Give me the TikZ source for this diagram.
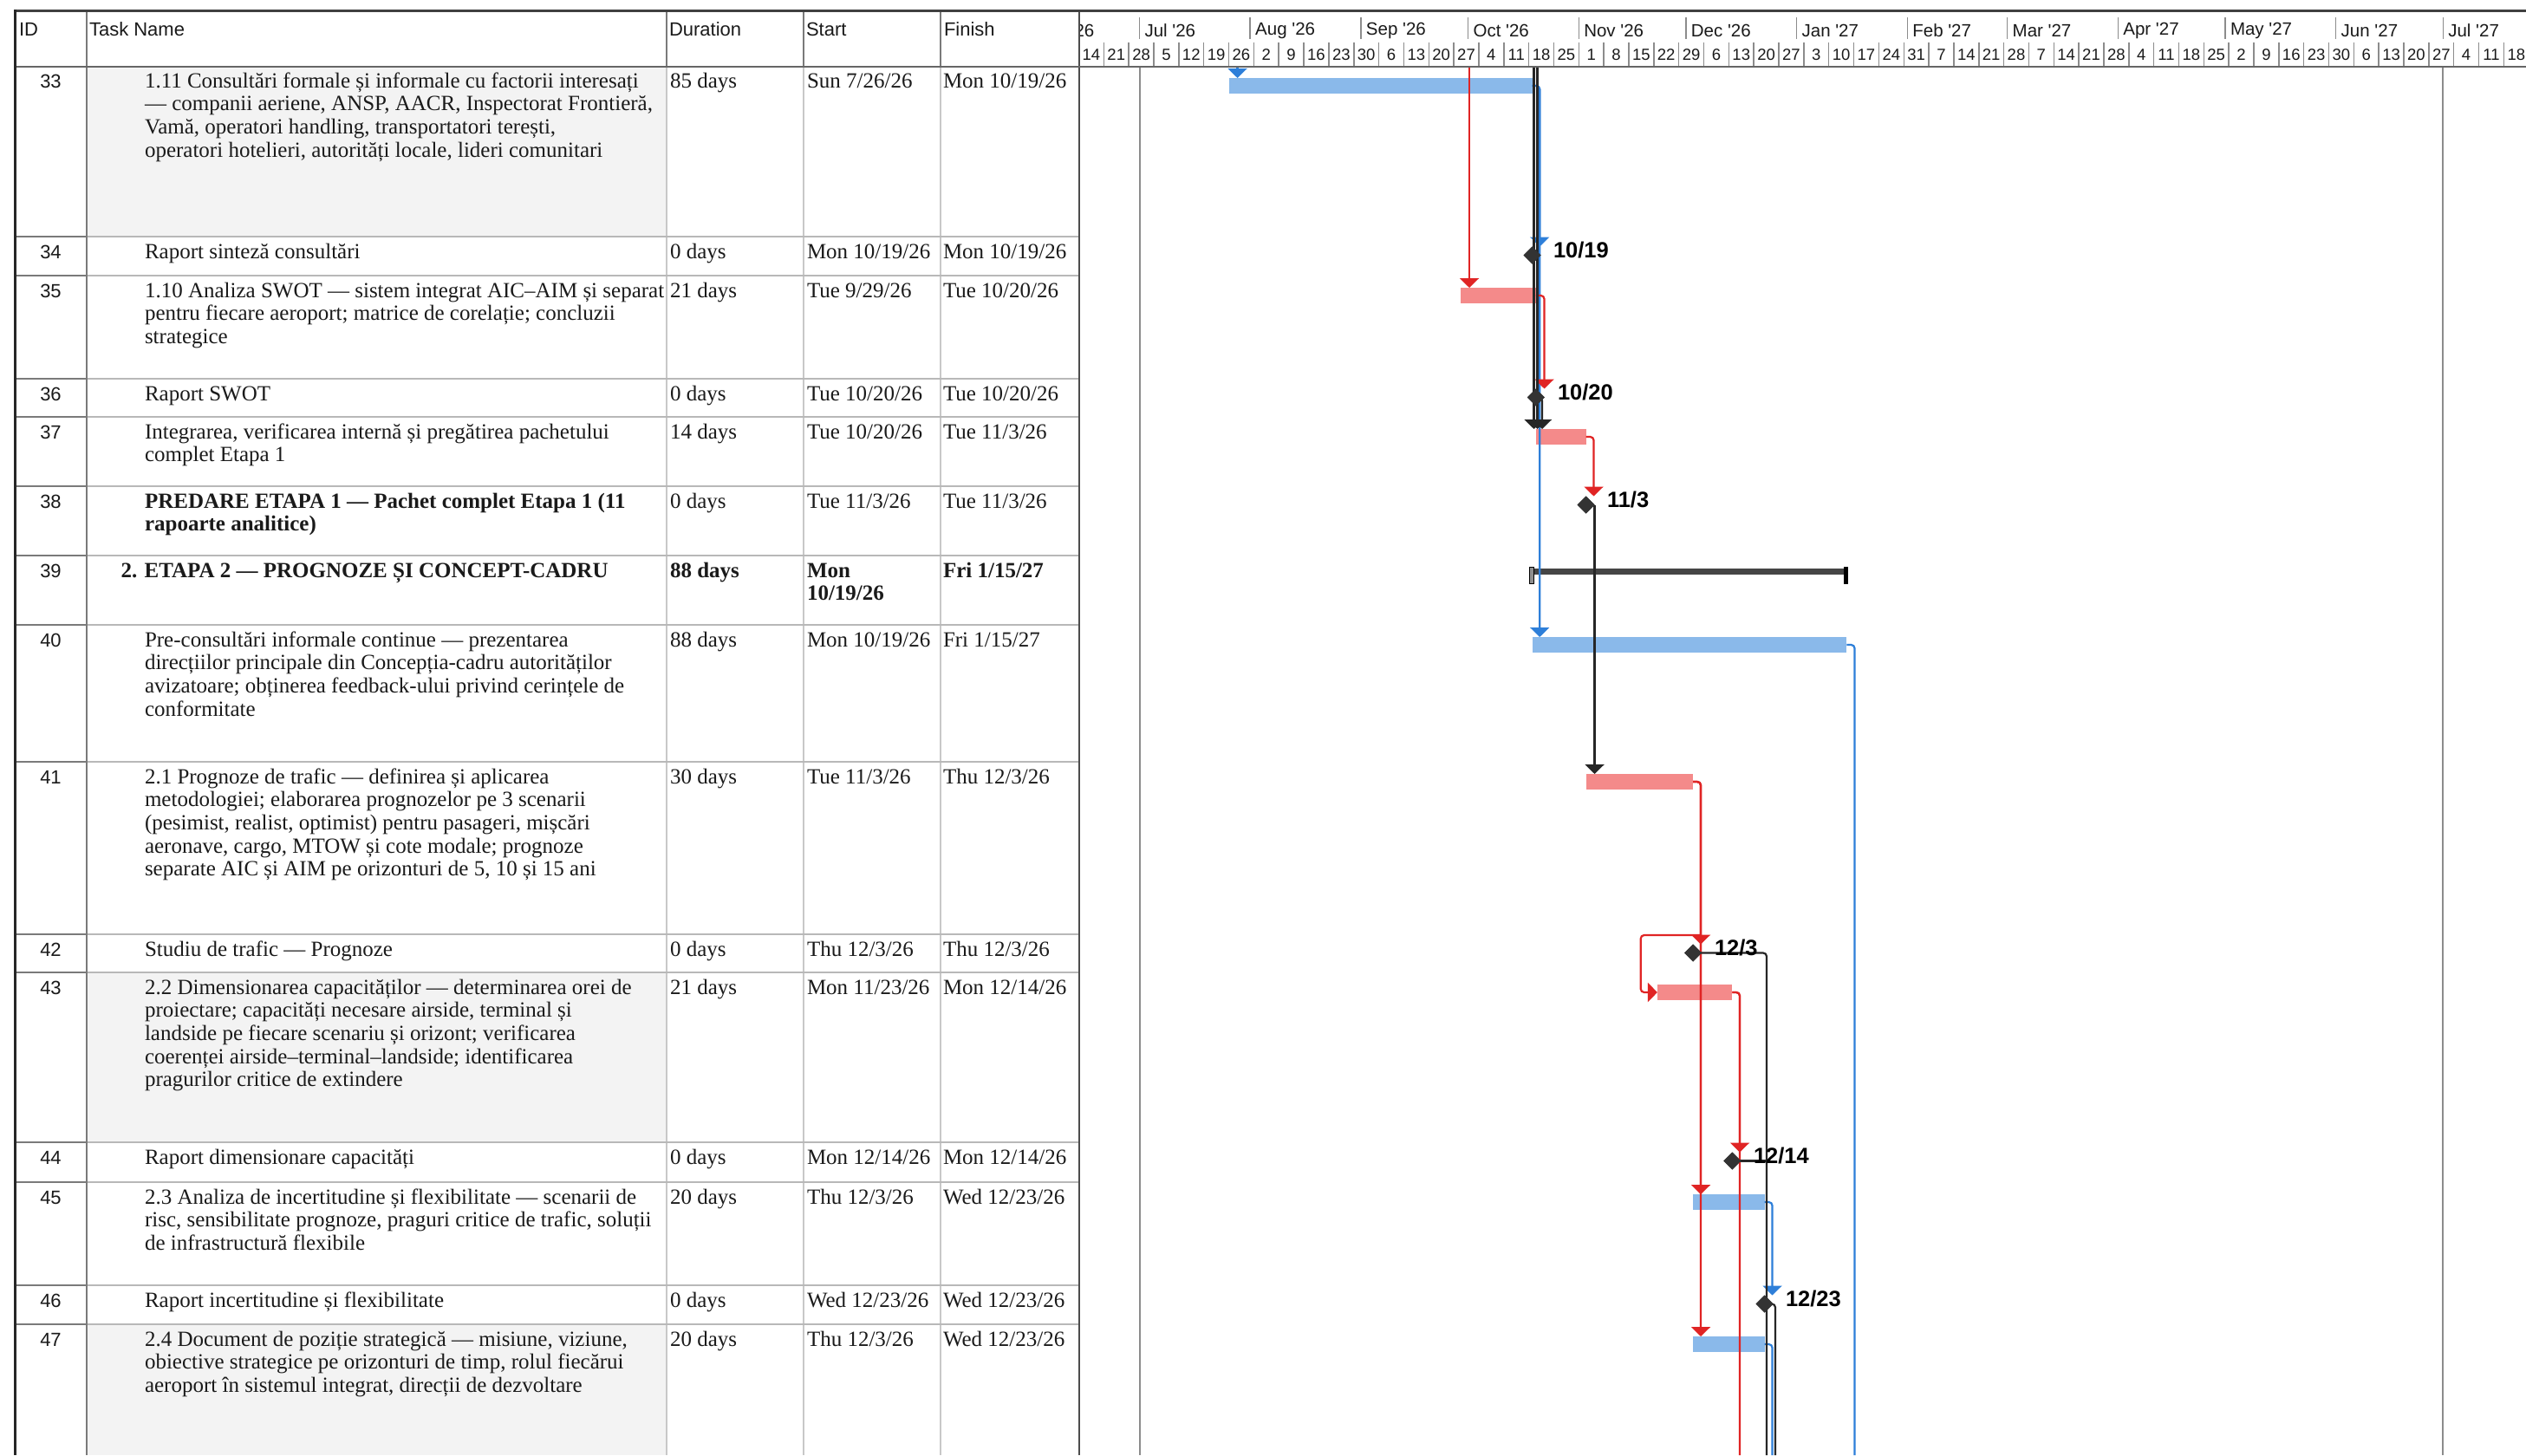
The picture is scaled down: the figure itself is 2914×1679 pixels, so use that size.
\documentclass[tikz,border=0pt]{standalone}
\usepackage{fontspec}
\setmainfont{Liberation Serif}
\newfontfamily\sansf{Liberation Sans}
\usetikzlibrary{arrows.meta,shapes.geometric}
\definecolor{barblue}{HTML}{8AB9EA}
\definecolor{lnblue}{HTML}{2E7FD9}
\definecolor{barred}{HTML}{F48A8A}
\definecolor{lnred}{HTML}{E02424}
\definecolor{msdark}{HTML}{333333}
\definecolor{lnblack}{HTML}{262626}
\definecolor{gridl}{HTML}{C8C8C8}
\definecolor{gridm}{HTML}{B8B8B8}
\definecolor{gridd}{HTML}{7A7A7A}
\definecolor{cellgray}{HTML}{F3F3F3}
\definecolor{txt}{HTML}{1A1A1A}
\definecolor{sumc}{HTML}{454545}
\definecolor{tickc}{HTML}{8C8C8C}
\newcommand\fs{\rule{0pt}{19.5pt}}
\newcommand\trow[7]{%
  \node[idc] (id#1) at (58.5,#2+25) {#1};
  \node[cell] (tn#1) at (#3,#2+5.5) {\fs #4};
  \node[cell] (du#1) at (773,#2+5.5) {\fs #5};
  \node[cell] (st#1) at (931,#2+5.5) {\fs #6};
  \node[cell] (fi#1) at (1088,#2+5.5) {\fs #7};
}
\tikzset{
  cell/.style={inner sep=0pt, outer sep=0pt, align=left, anchor=north west, text=txt, font=\fontsize{25}{26.7}\selectfont},
  idc/.style={inner sep=0pt, outer sep=0pt, anchor=base, text=txt, font=\sansf\fontsize{22}{24}\selectfont},
  hdr/.style={inner sep=0pt, outer sep=0pt, anchor=west, text=txt, font=\sansf\fontsize{22}{24}\selectfont},
  mon/.style={inner sep=0pt, outer sep=0pt, anchor=west, text=txt, font=\sansf\fontsize{20.5}{22}\selectfont},
  wk/.style={inner sep=0pt, outer sep=0pt, anchor=center, text=txt, font=\sansf\fontsize{18.5}{20}\selectfont},
  tickln/.style={line width=1.5pt, draw=tickc},
  barB/.style={fill=barblue, draw=none, inner sep=0pt, outer sep=0pt, anchor=north west, minimum height=18pt},
  barR/.style={fill=barred, draw=none, inner sep=0pt, outer sep=0pt, anchor=north west, minimum height=18pt},
  ms/.style={diamond, fill=msdark, inner sep=0pt, outer sep=0pt, minimum width=20pt, minimum height=20pt},
  mslbl/.style={inner sep=0pt, outer sep=0pt, anchor=west, text=black, font=\sansf\bfseries\fontsize{25.5}{28}\selectfont},
  lk/.style={line width=2.2pt, rounded corners=4pt},
  lkB/.style={lk, draw=lnblue},
  lkR/.style={lk, draw=lnred},
  lkK/.style={lk, draw=lnblack},
  arrowin/.style={-{Triangle[width=22pt,length=11pt]}},
}
\begin{document}
\begin{tikzpicture}[x=1pt,y=-1pt]
\useasboundingbox (0,0) rectangle (2914,1679);
\fill[white] (0,0) rectangle (2914,1679);

% shaded task cells
\fill[cellgray] (100,76) rectangle (769,273);
\fill[cellgray] (100,1122) rectangle (769,1318);
\fill[cellgray] (100,1528) rectangle (769,1679);

% body grid
\foreach \c in {769,927,1085} {\draw[line width=1.5pt, gridl] (\c,77) -- (\c,1679);}
\foreach \y in {273,318,437,481,561,641,721,879,1078,1122,1318,1364,1483,1528} {
  \draw[line width=2.8pt, gridm] (17,\y) -- (1245,\y);
  \draw[line width=2.8pt, gridd] (17,\y) -- (100,\y);
}
\draw[line width=2pt, gridd] (100,12) -- (100,1679);
\foreach \c in {769,927,1085} {\draw[line width=2pt, gridd] (\c,12) -- (\c,77);}

% gantt body year lines
\draw[line width=2pt, tickc] (1314.5,77) -- (1314.5,1679);
\draw[line width=2pt, tickc] (2818.3,77) -- (2818.3,1679);

% timescale
\begin{scope}
\clip (1246,12) rectangle (2914,77);
\foreach \d/\m [count=\i] in {-55/Jun '26,-25/Jul '26,6/Aug '26,37/Sep '26,67/Oct '26,98/Nov '26,128/Dec '26,159/Jan '27,190/Feb '27,218/Mar '27,249/Apr '27,279/May '27,310/Jun '27,340/Jul '27} {
  \draw[tickln] ({1417.5+4.12*\d},20) -- ({1417.5+4.12*\d},45);
  \node[mon] (mon\i) at ({1417.5+4.12*\d+6},35) {\m};
}
\foreach \lab [count=\k from 0] in {14,21,28,5,12,19,26,2,9,16,23,30,6,13,20,27,4,11,18,25,1,8,15,22,29,6,13,20,27,3,10,17,24,31,7,14,21,28,7,14,21,28,4,11,18,25,2,9,16,23,30,6,13,20,27,4,11,18} {
  \draw[tickln] ({1244.5+28.84*\k},49) -- ({1244.5+28.84*\k},77);
  \node[wk] (wk\k) at ({1244.5+28.84*\k+14.4},63) {\lab};
}
\end{scope}

% header texts
\node[hdr] (hID) at (22,34) {ID};
\node[hdr] (hTask) at (103,34) {Task Name};
\node[hdr] (hDur) at (772,34) {Duration};
\node[hdr] (hStart) at (930,34) {Start};
\node[hdr] (hFin) at (1089,34) {Finish};

% table rows
\trow{33}{76}{167}{1.11 Consultări formale și informale cu factorii interesați\\— companii aeriene, ANSP, AACR, Inspectorat Frontieră,\\Vamă, operatori handling, transportatori terești,\\operatori hotelieri, autorități locale, lideri comunitari}{85 days}{Sun 7/26/26}{Mon 10/19/26}
\trow{34}{273}{167}{Raport sinteză consultări}{0 days}{Mon 10/19/26}{Mon 10/19/26}
\trow{35}{318}{167}{1.10 Analiza SWOT — sistem integrat AIC–AIM și separat\\pentru fiecare aeroport; matrice de corelație; concluzii\\strategice}{21 days}{Tue 9/29/26}{Tue 10/20/26}
\trow{36}{437}{167}{Raport SWOT}{0 days}{Tue 10/20/26}{Tue 10/20/26}
\trow{37}{481}{167}{Integrarea, verificarea internă și pregătirea pachetului\\complet Etapa 1}{14 days}{Tue 10/20/26}{Tue 11/3/26}
\trow{38}{561}{167}{\bfseries PREDARE ETAPA 1 — Pachet complet Etapa 1 (11\\\bfseries rapoarte analitice)}{0 days}{Tue 11/3/26}{Tue 11/3/26}
\trow{39}{641}{139.5}{\bfseries 2. ETAPA 2 — PROGNOZE ȘI CONCEPT-CADRU}{\bfseries 88 days}{\bfseries Mon\\\bfseries 10/19/26}{\bfseries Fri 1/15/27}
\trow{40}{721}{167}{Pre-consultări informale continue — prezentarea\\direcțiilor principale din Concepția-cadru autorităților\\avizatoare; obținerea feedback-ului privind cerințele de\\conformitate}{88 days}{Mon 10/19/26}{Fri 1/15/27}
\trow{41}{879}{167}{2.1 Prognoze de trafic — definirea și aplicarea\\metodologiei; elaborarea prognozelor pe 3 scenarii\\(pesimist, realist, optimist) pentru pasageri, mișcări\\aeronave, cargo, MTOW și cote modale; prognoze\\separate AIC și AIM pe orizonturi de 5, 10 și 15 ani}{30 days}{Tue 11/3/26}{Thu 12/3/26}
\trow{42}{1078}{167}{Studiu de trafic — Prognoze}{0 days}{Thu 12/3/26}{Thu 12/3/26}
\trow{43}{1122}{167}{2.2 Dimensionarea capacităților — determinarea orei de\\proiectare; capacități necesare airside, terminal și\\landside pe fiecare scenariu și orizont; verificarea\\coerenței airside–terminal–landside; identificarea\\pragurilor critice de extindere}{21 days}{Mon 11/23/26}{Mon 12/14/26}
\trow{44}{1318}{167}{Raport dimensionare capacități}{0 days}{Mon 12/14/26}{Mon 12/14/26}
\trow{45}{1364}{167}{2.3 Analiza de incertitudine și flexibilitate — scenarii de\\risc, sensibilitate prognoze, praguri critice de trafic, soluții\\de infrastructură flexibile}{20 days}{Thu 12/3/26}{Wed 12/23/26}
\trow{46}{1483}{167}{Raport incertitudine și flexibilitate}{0 days}{Wed 12/23/26}{Wed 12/23/26}
\trow{47}{1528}{167}{2.4 Document de poziție strategică — misiune, viziune,\\obiective strategice pe orizonturi de timp, rolul fiecărui\\aeroport în sistemul integrat, direcții de dezvoltare}{20 days}{Thu 12/3/26}{Wed 12/23/26}

% bars
\node[barB, minimum width=350.2pt] (b33) at (1417.5,90) {};
\node[barR, minimum width=86.5pt] (b35) at (1685.3,332) {};
\node[barR, minimum width=57.7pt] (b37) at (1771.8,495) {};
\node[barB, minimum width=362.6pt] (b40) at (1767.7,735) {};
\node[barR, minimum width=123.6pt] (b41) at (1829.5,893) {};
\node[barR, minimum width=86.5pt] (b43) at (1911.9,1136) {};
\node[barB, minimum width=82.4pt] (b45) at (1953.1,1378) {};
\node[barB, minimum width=82.4pt] (b47) at (1953.1,1542) {};

% summary bar 39
\fill[sumc] (1767.7,656) rectangle (2130.3,663);
\draw[line width=1.5pt, black, fill=sumc!60] (1764.5,654.5) rectangle (1769.5,673.5);
\fill[black] (2127,654) rectangle (2131.5,674);

% milestones (placed first as coordinates for links)
\node[ms] (m34) at (1767.7,294.5) {};
\node[ms] (m36) at (1771.8,458.5) {};
\node[ms] (m38) at (1829.5,582.5) {};
\node[ms] (m42) at (1953.1,1099.5) {};
\node[ms] (m44) at (1998.4,1339.5) {};
\node[ms] (m46) at (2035.5,1504.5) {};

% blue links
\draw[lkB, arrowin] (1427.5,78) -- (b33.north west -| 1427.5,0);
\draw[lkB, arrowin] (b33.east) -- (1776.2,99) -- (1776.2,735);
\draw[lkB, arrowin] (b33.east) -- (1776.2,99) -- (1776.2,284.5);
\draw[lkB] (b40.east) -- (2139.5,744) -- (2139.5,1679);
\draw[lkB, arrowin] (b45.east) -- (2044.5,1387) -- (2044.5,1494.5);
\draw[lkB] (b47.east) -- (2044.5,1551) -- (2044.5,1679);

% red links
\draw[lkR, arrowin] (1695,77) -- (1695,332);
\draw[lkR, arrowin] (b35.east) -- (1781.5,341) -- (1781.5,448.5);
\draw[lkR, arrowin] (b37.east) -- (1838.5,504) -- (1838.5,572.5);
\draw[lkR, arrowin] (b41.east) -- (1962,902) -- (1962,1089.5);
\draw[lkR, arrowin] (b41.east) -- (1962,902) -- (1962,1378);
\draw[lkR, arrowin] (b41.east) -- (1962,902) -- (1962,1542);
\draw[lkR, arrowin] (1962,1079) -- (1892.7,1079) -- (1892.7,1145) -- (b43.west);
\draw[lkR, arrowin] (b43.east) -- (2007,1145) -- (2007,1329.5);
\draw[lkR] (b43.east) -- (2007,1145) -- (2007,1679);

% black links
\draw[lkK, arrowin] (1769.5,77) -- (1769.5,495);
\draw[lkK, arrowin] (1773.5,77) -- (1773.5,495);
\draw[lkK, arrowin] (m36.center) -- (1779,458.5) -- (1779,495);
\draw[lkK, arrowin] (m38.east) -- (1839.5,893);
\draw[lkK] (m42.center) -- (2038,1099.5) -- (2038,1679);
\draw[lkK] (m44.center) -- (2038,1339.5);
\draw[lkK] (m46.center) -- (2048,1504.5) -- (2048,1679);

% milestones on top
\foreach \m in {m34,m36,m38,m42,m44,m46} {\fill[msdark] (\m.north) -- (\m.east) -- (\m.south) -- (\m.west) -- cycle;}

% milestone labels
\node[mslbl] (l34) at (1792,288.5) {10/19};
\node[mslbl] (l36) at (1797,452.5) {10/20};
\node[mslbl] (l38) at (1854,576.5) {11/3};
\node[mslbl] (l42) at (1978,1093.5) {12/3};
\node[mslbl] (l44) at (2023,1333.5) {12/14};
\node[mslbl] (l46) at (2060,1498.5) {12/23};

% frame lines
\draw[line width=2.5pt, black!70] (1245,12) -- (1245,1679);
\draw[line width=3pt, black!75] (17,12) -- (2914,12);
\draw[line width=2.5pt, black!60] (17,77) -- (2914,77);
\draw[line width=3pt, black!85] (17,10.5) -- (17,1679);
\end{tikzpicture}
\end{document}
